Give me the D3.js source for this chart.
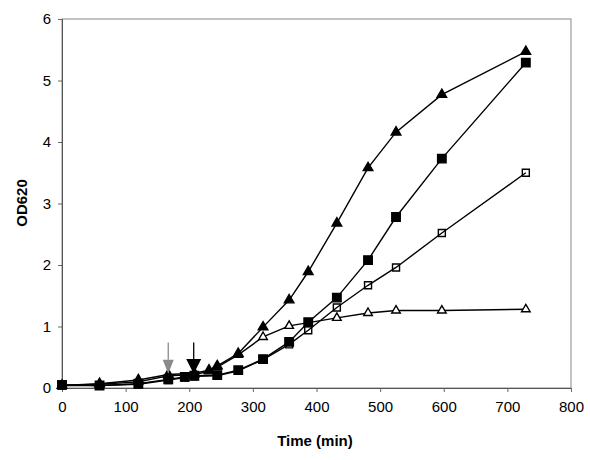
<!DOCTYPE html>
<html><head><meta charset="utf-8">
<script src="https://cdn.jsdelivr.net/npm/d3@7"></script>
<style>body{margin:0;background:#fff}svg{display:block}text{font-family:"Liberation Sans",Arial,sans-serif}</style>
</head><body><svg id="c" width="590" height="460"></svg>
<script>
const xTicks = [0,100,200,300,400,500,600,700,800];
const yTicks = [0,1,2,3,4,5,6];
const filledTriT = [0,59,120,167,208,231,244,277,316,357,387,432,481,525,597,729];
const filledTriV = [0.04,0.07,0.13,0.22,0.24,0.29,0.36,0.56,0.99,1.43,1.89,2.68,3.58,4.16,4.77,5.47];
const openTriT = [0,59,120,167,208,231,244,277,316,357,432,481,525,597,729];
const openTriV = [0.04,0.06,0.1,0.2,0.22,0.27,0.34,0.54,0.83,1.01,1.14,1.22,1.26,1.26,1.28];
const filledSqT = [0,59,120,167,193,208,244,277,316,357,387,432,481,525,597,729];
const filledSqV = [0.05,0.04,0.07,0.14,0.18,0.2,0.21,0.29,0.47,0.75,1.07,1.47,2.08,2.78,3.73,5.29];
const openSqT = [0,59,120,167,193,208,244,277,316,357,387,432,481,525,597,729];
const openSqV = [0.04,0.04,0.06,0.13,0.17,0.19,0.2,0.28,0.46,0.71,0.94,1.31,1.67,1.96,2.52,3.5];
const arrowT = [167,207];
const arrowColors = ["#8a8a8a","#000"];

const svg = d3.select("#c");
const L=62,R=571,T=19,B=388;
const x = d3.scaleLinear().domain([0,800]).range([L,R]);
const y = d3.scaleLinear().domain([0,6]).range([B,T]);

svg.append("rect").attr("x",L).attr("y",T).attr("width",R-L).attr("height",B-T)
  .attr("fill","none").attr("stroke","#888").attr("stroke-width",1);

const xa = svg.append("g").attr("transform",`translate(0,${B})`)
  .call(d3.axisBottom(x).tickValues(xTicks).tickSize(4).tickPadding(9).tickFormat(d3.format("d")));
const ya = svg.append("g").attr("transform",`translate(${L},0)`)
  .call(d3.axisLeft(y).tickValues(yTicks).tickSize(4).tickPadding(7).tickFormat(d3.format("d")));
[xa,ya].forEach(a=>{
  a.select(".domain").attr("stroke","#555");
  a.selectAll(".tick line").attr("stroke","#666");
  a.selectAll("text").attr("font-size",15).attr("fill","#000").attr("font-family","Liberation Sans, Arial, sans-serif");
});

svg.append("text").attr("x",315).attr("y",446).attr("text-anchor","middle")
  .attr("font-size",15).attr("font-weight","bold").text("Time (min)");
svg.append("text").attr("transform","translate(27,203) rotate(-90)").attr("text-anchor","middle")
  .attr("font-size",15).attr("font-weight","bold").text("OD620");

const line = d3.line().x(d=>x(d[0])).y(d=>y(d[1]));
const zip = (a,b)=>a.map((t,i)=>[t,b[i]]);
const series = [
  {t:openTriT,v:openTriV,shape:d3.symbolTriangle,size:32,fill:"#fff"},
  {t:filledTriT,v:filledTriV,shape:d3.symbolTriangle,size:40,fill:"#000"},
  {t:openSqT,v:openSqV,shape:d3.symbolSquare,size:49,fill:"none"},
  {t:filledSqT,v:filledSqV,shape:d3.symbolSquare,size:72,fill:"#000"}
];
series.forEach(s=>{
  svg.append("path").attr("d",line(zip(s.t,s.v))).attr("fill","none").attr("stroke","#000").attr("stroke-width",1.4);
});
series.forEach(s=>{
  svg.append("g").selectAll("path").data(zip(s.t,s.v)).join("path")
    .attr("transform",d=>`translate(${x(d[0])},${y(d[1])})`)
    .attr("d",d3.symbol().type(s.shape).size(s.size))
    .attr("fill",s.fill).attr("stroke","#000").attr("stroke-width",1.4);
});

arrowT.forEach((t,i)=>{
  const cx = x(t), c = arrowColors[i];
  const w = i===0?5.5:7.5, top = y(0.74), hb = i===0?y(0.46):y(0.47), tip = y(0.23);
  svg.append("line").attr("x1",cx).attr("x2",cx).attr("y1",top).attr("y2",hb)
    .attr("stroke",c).attr("stroke-width",1.3);
  svg.append("path").attr("d",`M${cx-w},${hb}L${cx+w},${hb}L${cx},${tip}Z`).attr("fill",c);
});
</script></body></html>
